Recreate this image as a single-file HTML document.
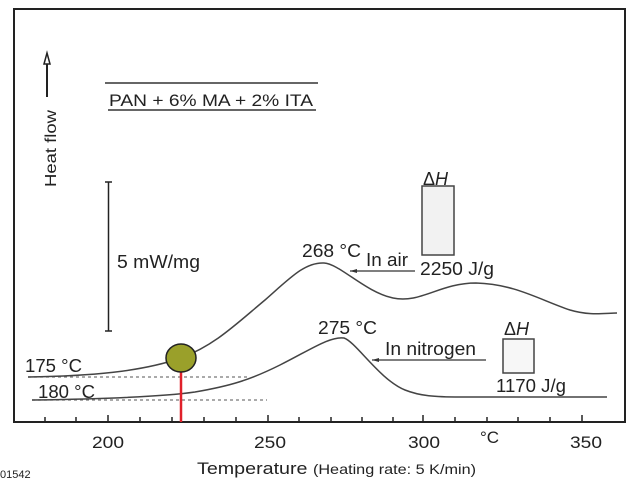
<!DOCTYPE html>
<html><head><style>
body{margin:0;background:#fff}
svg{display:block}
text{font-family:"Liberation Sans",sans-serif;fill:#222}
</style></head><body>
<svg width="636" height="480" viewBox="0 0 636 480">
<rect x="14" y="9" width="611" height="413" fill="none" stroke="#222" stroke-width="2"/>
<g stroke="#222" stroke-width="1.5">
<line x1="45" y1="422" x2="45" y2="417"/><line x1="76" y1="422" x2="76" y2="417"/>
<line x1="108" y1="422" x2="108" y2="415"/><line x1="140" y1="422" x2="140" y2="417"/>
<line x1="172" y1="422" x2="172" y2="417"/><line x1="204" y1="422" x2="204" y2="417"/>
<line x1="236" y1="422" x2="236" y2="417"/><line x1="268" y1="422" x2="268" y2="415"/>
<line x1="299" y1="422" x2="299" y2="417"/><line x1="331" y1="422" x2="331" y2="417"/>
<line x1="362" y1="422" x2="362" y2="417"/><line x1="393" y1="422" x2="393" y2="417"/>
<line x1="423" y1="422" x2="423" y2="415"/><line x1="455" y1="422" x2="455" y2="417"/>
<line x1="487" y1="422" x2="487" y2="417"/><line x1="518" y1="422" x2="518" y2="417"/>
<line x1="550" y1="422" x2="550" y2="417"/><line x1="582" y1="422" x2="582" y2="415"/>
</g>
<g font-size="17" lengthAdjust="spacingAndGlyphs">
<text x="92" y="448" textLength="32" lengthAdjust="spacingAndGlyphs">200</text><text x="254" y="448" textLength="32" lengthAdjust="spacingAndGlyphs">250</text>
<text x="408" y="448" textLength="32" lengthAdjust="spacingAndGlyphs">300</text><text x="570" y="448" textLength="32" lengthAdjust="spacingAndGlyphs">350</text>
<text x="480" y="443">°C</text>
</g>
<text x="197" y="474" font-size="17" textLength="279" lengthAdjust="spacingAndGlyphs">Temperature <tspan font-size="14">(Heating rate: 5 K/min)</tspan></text>
<text x="0" y="478" font-size="11">01542</text>
<text transform="translate(56,187) rotate(-90)" font-size="16" textLength="77" lengthAdjust="spacingAndGlyphs">Heat flow</text>
<line x1="47" y1="60" x2="47" y2="97" stroke="#222" stroke-width="2"/>
<path d="M44,64 L47,53 L50,64 Z" fill="#fff" stroke="#222" stroke-width="1.5"/>
<line x1="105" y1="83" x2="318" y2="83" stroke="#333" stroke-width="1.5"/>
<line x1="108" y1="110" x2="316" y2="110" stroke="#333" stroke-width="1.5"/>
<text x="109" y="106" font-size="17" textLength="204" lengthAdjust="spacingAndGlyphs">PAN + 6% MA + 2% ITA</text>
<line x1="108.5" y1="182" x2="108.5" y2="331" stroke="#222" stroke-width="1.5"/>
<line x1="105" y1="182" x2="112" y2="182" stroke="#222" stroke-width="1.5"/>
<line x1="105" y1="331" x2="112" y2="331" stroke="#222" stroke-width="1.5"/>
<text x="117" y="268" font-size="18" textLength="83" lengthAdjust="spacingAndGlyphs">5 mW/mg</text>
<line x1="28" y1="377" x2="247" y2="377" stroke="#777" stroke-width="1.3" stroke-dasharray="3,3"/>
<line x1="32" y1="400" x2="267" y2="400" stroke="#777" stroke-width="1.3" stroke-dasharray="3,3"/>
<path d="M28,377 C90,376 140,372 181,358 C215,345 235,325 265,300 C290,278 305,262 324,263 C340,264 365,292 393,298 C420,304 440,283 476,283 C515,284 540,300 570,310 C590,316 605,313 617,313" fill="none" stroke="#444" stroke-width="1.5"/>
<path d="M32,400 C100,399 160,397 195,392 C230,386 250,380 280,365 C310,350 330,336 344,338 C356,342 380,380 405,390 C420,396 435,397 460,397 L607,397" fill="none" stroke="#444" stroke-width="1.5"/>
<line x1="181" y1="372" x2="181" y2="422" stroke="#e0202a" stroke-width="2.5"/>
<ellipse cx="181" cy="358" rx="15" ry="14" fill="#9aa02a" stroke="#222" stroke-width="1.5"/>
<g font-size="18">
<text x="25" y="372" textLength="57" lengthAdjust="spacingAndGlyphs">175 °C</text>
<text x="38" y="398" textLength="57" lengthAdjust="spacingAndGlyphs">180 °C</text>
<text x="302" y="257" textLength="59" lengthAdjust="spacingAndGlyphs">268 °C</text>
<text x="366" y="266" textLength="42" lengthAdjust="spacingAndGlyphs">In air</text>
<text x="420" y="275" textLength="74" lengthAdjust="spacingAndGlyphs">2250 J/g</text>
<text x="318" y="334" textLength="59" lengthAdjust="spacingAndGlyphs">275 °C</text>
<text x="385" y="355" textLength="91" lengthAdjust="spacingAndGlyphs">In nitrogen</text>
<text x="496" y="392" textLength="70" lengthAdjust="spacingAndGlyphs">1170 J/g</text>
<text x="423" y="185" font-style="italic"><tspan font-style="normal">Δ</tspan>H</text>
<text x="504" y="335" font-style="italic"><tspan font-style="normal">Δ</tspan>H</text>
</g>
<line x1="350" y1="271" x2="415" y2="271" stroke="#333" stroke-width="1.3"/>
<path d="M350,271 L357,269 L357,273Z" fill="#333"/>
<line x1="372" y1="360" x2="486" y2="360" stroke="#333" stroke-width="1.3"/>
<path d="M372,360 L379,358 L379,362Z" fill="#333"/>
<rect x="422" y="186" width="32" height="69" fill="#f2f2f2" stroke="#444" stroke-width="1.5"/>
<rect x="503" y="339" width="31" height="34" fill="#f7f7f7" stroke="#444" stroke-width="1.5"/>
</svg>
</body></html>
